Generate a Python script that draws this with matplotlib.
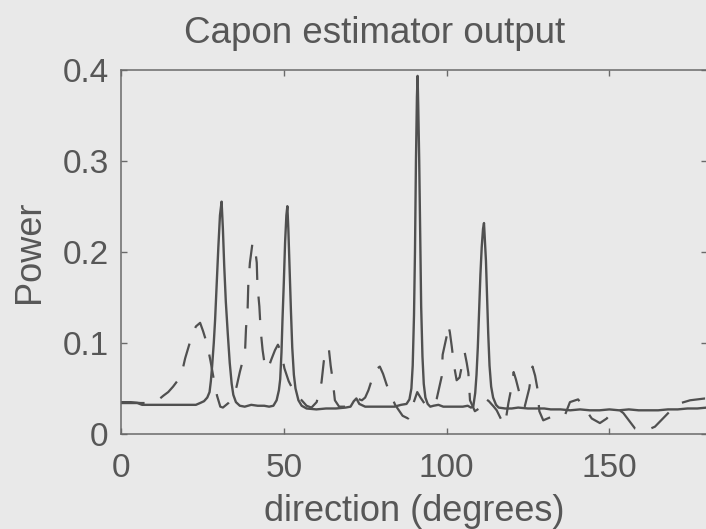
# capon_plot.py
# Capon estimator output vs direction, solid = Capon, dashed = comparison spectrum

import matplotlib
matplotlib.use("Agg")
import matplotlib.pyplot as plt
from matplotlib.ticker import FuncFormatter

# solid curve (Capon)
capon_deg = [0, 2, 5, 6.5, 10, 15, 20, 23, 24.3, 25.5, 26.5, 27.2, 27.6, 28.0,
             28.5, 28.9, 29.4, 29.9, 30.4, 30.9, 31.3, 31.7, 32.2, 32.8, 33.4,
             34.0, 34.5, 35.3, 36.5, 38, 40, 42, 44, 45.5, 46.8, 47.8, 48.5,
             48.9, 49.3, 49.6, 50.0, 50.4, 50.8, 51.1, 51.4, 51.8, 52.2, 52.6,
             53.1, 53.6, 54.5, 55.5, 57, 60, 63, 66, 69, 70.5, 71.5, 72.3, 73.2,
             75, 78, 81, 84, 86, 87.7, 88.6, 89.2, 89.6, 90.0, 90.3, 90.6, 90.9,
             91.1, 91.3, 91.6, 91.9, 92.2, 92.6, 93.0, 93.5, 94.2, 95, 96, 97.5,
             99, 101, 103, 105, 106.5, 107.5, 108.2, 108.8, 109.2, 109.6, 110.0,
             110.4, 110.8, 111.2, 111.5, 111.8, 112.1, 112.4, 112.8, 113.2,
             113.7, 114.3, 115.2, 116, 118, 120, 122, 125, 128, 130, 132, 135,
             138, 141, 144, 147, 150, 153, 156, 159, 162, 165, 168, 171, 174,
             177, 180]
capon_pow = [0.034, 0.034, 0.034, 0.032, 0.032, 0.032, 0.032, 0.032, 0.034,
             0.036, 0.040, 0.046, 0.058, 0.075, 0.100, 0.125, 0.165, 0.205,
             0.240, 0.255, 0.225, 0.185, 0.145, 0.110, 0.078, 0.055, 0.043,
             0.035, 0.031, 0.030, 0.032, 0.031, 0.031, 0.030, 0.031, 0.037,
             0.048, 0.060, 0.090, 0.125, 0.165, 0.210, 0.240, 0.250, 0.225,
             0.180, 0.135, 0.095, 0.065, 0.050, 0.037, 0.031, 0.028, 0.027,
             0.028, 0.028, 0.029, 0.030, 0.036, 0.039, 0.033, 0.030, 0.030,
             0.030, 0.030, 0.032, 0.033, 0.038, 0.050, 0.075, 0.130, 0.200,
             0.300, 0.370, 0.393, 0.360, 0.300, 0.220, 0.140, 0.085, 0.055,
             0.040, 0.033, 0.030, 0.031, 0.032, 0.030, 0.030, 0.030, 0.030,
             0.031, 0.029, 0.030, 0.045, 0.065, 0.095, 0.135, 0.175, 0.205,
             0.225, 0.2315, 0.210, 0.190, 0.155, 0.110, 0.075, 0.052, 0.040,
             0.032, 0.029, 0.028, 0.028, 0.029, 0.028, 0.028, 0.028, 0.027,
             0.027, 0.026, 0.027, 0.026, 0.026, 0.027, 0.026, 0.027, 0.026,
             0.026, 0.026, 0.027, 0.027, 0.028, 0.028, 0.029]

# dashed curve
other_deg = [0, 3, 6, 8, 10, 12, 13, 14.5, 16, 17.9, 19, 19.7, 21.7, 23, 24.3,
             25.2, 26.5, 27.5, 28.5, 29.5, 30.5, 31.3, 33, 34.5, 35.5, 36.5,
             38.1, 38.4, 38.9, 39.1, 39.6, 40.4, 40.9, 41.3, 41.7, 41.9, 42.5,
             42.9, 43.5, 44.3, 45.2, 46.2, 47.3, 48.2, 49.2, 50.2, 51.5, 52.9,
             54.2, 55.5, 57, 58.5, 60.1, 61.6, 62.3, 63.2, 63.8, 64.4, 65, 65.7,
             67, 69, 71, 72.4, 74, 75, 76, 78, 79.5, 80.5, 81.6, 84.2, 86.5,
             88.2, 90.3, 91, 92, 93.5, 95.5, 97, 98.5, 98.8, 100.2, 100.5, 101.0,
             101.6, 102.3, 103.1, 104, 105, 105.6, 106.2, 106.7, 107.2, 108.7,
             110, 111.5, 113, 114.5, 115.4, 117.6, 118.3, 119, 120.2, 120.6,
             121.3, 122.3, 123.2, 124, 125.4, 126.4, 127.2, 127.9, 128.5, 129.7,
             131, 132.3, 134.5, 136.4, 137.9, 140.4, 142.5, 144.6, 147.1, 149.2,
             151.5, 152.8, 154.3, 157.9, 160, 162, 164, 168.1, 170, 172, 174.8,
             177, 179.4, 180]
other_pow = [0.035, 0.035, 0.034, 0.034, 0.036, 0.039, 0.042, 0.046, 0.052,
             0.061, 0.072, 0.083, 0.107, 0.118, 0.122, 0.113, 0.098, 0.080,
             0.060, 0.042, 0.030, 0.029, 0.034, 0.041, 0.052, 0.068, 0.090,
             0.116, 0.138, 0.164, 0.188, 0.210, 0.208, 0.200, 0.188, 0.164,
             0.140, 0.114, 0.092, 0.072, 0.072, 0.082, 0.092, 0.098, 0.090,
             0.072, 0.058, 0.048, 0.042, 0.037, 0.031, 0.029, 0.035, 0.057,
             0.080, 0.092, 0.095, 0.075, 0.060, 0.037, 0.030, 0.030, 0.034,
             0.039, 0.037, 0.040, 0.048, 0.070, 0.074, 0.066, 0.054, 0.032,
             0.020, 0.017, 0.039, 0.046, 0.040, 0.032, 0.031, 0.039, 0.063,
             0.087, 0.110, 0.120, 0.112, 0.096, 0.075, 0.059, 0.062, 0.080,
             0.089, 0.078, 0.067, 0.037, 0.025, 0.028, 0.040, 0.036, 0.030,
             0.026, 0.010, 0.018, 0.034, 0.056, 0.068, 0.060, 0.046, 0.032,
             0.030, 0.050, 0.074, 0.064, 0.050, 0.025, 0.015, 0.017, 0.019,
             0.018, 0.021, 0.035, 0.038, 0.028, 0.017, 0.012, 0.017, 0.027,
             0.027, 0.023, 0.006, 0.004, 0.005, 0.008, 0.023, 0.030, 0.034,
             0.037, 0.038, 0.039, 0.039]

x_ticks = [0, 50, 100, 150]
y_ticks = [0, 0.1, 0.2, 0.3, 0.4]

bg = "#e9e9e9"
ink = "#505050"
txt = "#575757"

plt.rcParams["font.family"] = ["Liberation Sans", "DejaVu Sans"]
plt.rcParams["lines.scale_dashes"] = False

fig = plt.figure(figsize=(7.06, 5.29), dpi=100, facecolor=bg)
ax = fig.add_axes([121 / 706, 95 / 529, 586 / 706, 364.5 / 529], facecolor=bg)

ax.plot(capon_deg, capon_pow, color=ink, lw=1.7)
ax.plot(other_deg, other_pow, color=ink, lw=1.6, linestyle=(0, (17, 12)))

ax.set_xlim(0, 180)
ax.set_ylim(0, 0.4)
ax.set_xticks(x_ticks)
ax.set_yticks(y_ticks)
ax.yaxis.set_major_formatter(FuncFormatter(lambda v, p: "%g" % v))
ax.tick_params(direction="in", length=4, width=1, colors="#6a6a6a",
               top=True, right=True, labelsize=24, labelcolor=txt)
ax.tick_params(axis="x", pad=14)
ax.tick_params(axis="y", pad=9)
for s in ax.spines.values():
    s.set_color("#6a6a6a")
    s.set_linewidth(1.1)

ax.set_title("Capon estimator output", fontsize=26.5, color=txt,
             x=0.432, pad=19)
ax.set_xlabel("direction (degrees)", fontsize=26, color=txt, labelpad=7)
ax.set_ylabel("Power", fontsize=26, color=txt, labelpad=11)

fig.savefig("out.png", dpi=100, facecolor=bg)
